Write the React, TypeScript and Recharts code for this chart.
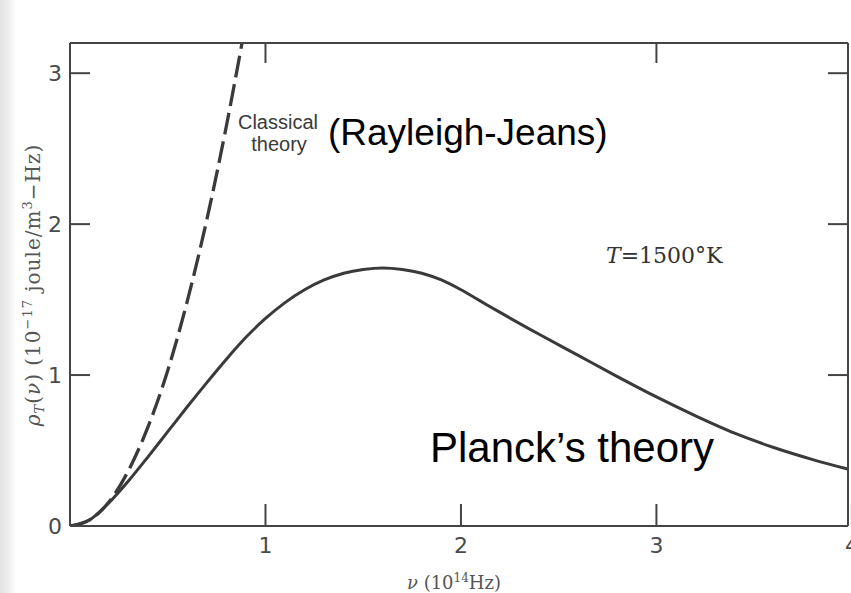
import React from 'react';
import { LineChart, Line, XAxis, YAxis } from 'recharts';

// ν in 10^14 Hz, ρ in 10^-17 joule/m^3-Hz
const planckNu = [0, 0.1, 0.2, 0.3, 0.4, 0.5, 0.6, 0.7, 0.8, 0.9, 1.0, 1.1, 1.2, 1.3, 1.4, 1.5, 1.6, 1.7, 1.8, 1.9, 2.0, 2.1, 2.2, 2.4, 2.6, 2.8, 3.0, 3.2, 3.4, 3.6, 3.8, 4.0];
const planckRho = [0, 0.04, 0.155, 0.3, 0.46, 0.625, 0.79, 0.95, 1.105, 1.25, 1.375, 1.48, 1.565, 1.63, 1.675, 1.7, 1.71, 1.70, 1.675, 1.63, 1.565, 1.49, 1.415, 1.27, 1.13, 0.99, 0.855, 0.73, 0.615, 0.52, 0.44, 0.37];

const classicalNu = [0, 0.1, 0.2, 0.3, 0.4, 0.5, 0.6, 0.7, 0.8, 0.88];
const classicalRho = [0, 0.04, 0.16, 0.37, 0.66, 1.03, 1.49, 2.03, 2.65, 3.2];

const xTicks = [1, 2, 3, 4];
const xTopTicks = [1, 3];
const yTicks = [0, 1, 2, 3];
const yRightTicks = [1, 2, 3];

const planckData = planckNu.map((nu, i) => ({ nu, rho: planckRho[i] }));
const classicalData = classicalNu.map((nu, i) => ({ nu, rho: classicalRho[i] }));

const W = 851;
const H = 593;
const INK = '#3a3a3a';
const axisStyle = { stroke: '#444', strokeWidth: 2 };
const tickFont = { fontFamily: 'DejaVu Sans', fontSize: 22, fill: '#4a4a4a' };

const BottomTick = (p: any) => (
  <g>
    <line x1={p.x} y1={p.y} x2={p.x} y2={p.y - 22} stroke="#444" strokeWidth={2} />
    <text x={p.x} y={p.y + 27} textAnchor="middle" {...tickFont}>{p.payload.value}</text>
  </g>
);
const LeftTick = (p: any) => (
  <g>
    {p.payload.value !== 0 && <line x1={p.x} y1={p.y} x2={p.x + 20} y2={p.y} stroke="#444" strokeWidth={2} />}
    <text x={p.x - 8} y={p.y + 8} textAnchor="end" {...tickFont}>{p.payload.value}</text>
  </g>
);
const TopTick = (p: any) => (
  <line x1={p.x} y1={p.y} x2={p.x} y2={p.y + 20} stroke="#444" strokeWidth={2} />
);
const RightTick = (p: any) => (
  <line x1={p.x} y1={p.y} x2={p.x - 20} y2={p.y} stroke="#444" strokeWidth={2} />
);

export default function App() {
  return (
    <div
      style={{
        position: 'absolute',
        left: 0,
        top: 0,
        width: W,
        height: H,
        overflow: 'hidden',
        background: 'linear-gradient(to right, #e2e2e2 0px, #efefef 9px, #ffffff 16px)',
      }}
    >
      <LineChart width={W} height={H} margin={{ top: 42, right: 0, bottom: 0, left: 0 }}>
        <XAxis
          xAxisId="b"
          type="number"
          dataKey="nu"
          domain={[0, 3.98]}
          allowDataOverflow
          ticks={xTicks}
          interval={0}
          height={67}
          tickSize={0}
          tickMargin={0}
          tickLine={false}
          axisLine={axisStyle}
          tick={(p: any) => <BottomTick {...p} />}
        />
        <XAxis
          xAxisId="t"
          orientation="top"
          type="number"
          dataKey="nu"
          domain={[0, 3.98]}
          allowDataOverflow
          ticks={xTopTicks}
          interval={0}
          height={1}
          tickSize={0}
          tickMargin={0}
          tickLine={false}
          axisLine={axisStyle}
          tick={(p: any) => <TopTick {...p} />}
        />
        <YAxis
          yAxisId="l"
          type="number"
          domain={[0, 3.2]}
          allowDataOverflow
          ticks={yTicks}
          interval={0}
          width={70}
          tickSize={0}
          tickMargin={0}
          tickLine={false}
          axisLine={axisStyle}
          tick={(p: any) => <LeftTick {...p} />}
        />
        <YAxis
          yAxisId="r"
          orientation="right"
          type="number"
          domain={[0, 3.2]}
          allowDataOverflow
          ticks={yRightTicks}
          interval={0}
          width={3}
          tickSize={0}
          tickMargin={0}
          tickLine={false}
          axisLine={axisStyle}
          tick={(p: any) => <RightTick {...p} />}
        />
        <Line
          xAxisId="b"
          yAxisId="l"
          data={classicalData}
          dataKey="rho"
          type="monotone"
          stroke={INK}
          strokeWidth={3.3}
          strokeDasharray="22 7"
          dot={false}
          isAnimationActive={false}
        />
        <Line
          xAxisId="b"
          yAxisId="l"
          data={planckData}
          dataKey="rho"
          type="monotone"
          stroke={INK}
          strokeWidth={3}
          dot={false}
          isAnimationActive={false}
        />
      </LineChart>
      <svg
        width={W}
        height={H}
        style={{ position: 'absolute', left: 0, top: 0, pointerEvents: 'none' }}
      >
        <text
          transform="translate(40,285) rotate(-90)"
          textAnchor="middle"
          fontFamily="DejaVu Serif"
          fontSize={20}
          letterSpacing={1}
          fill="#555"
        >
          <tspan fontStyle="italic">ρ</tspan>
          <tspan fontStyle="italic" fontSize={13} dy={4}>T</tspan>
          <tspan dy={-4}>(</tspan>
          <tspan fontStyle="italic">ν</tspan>
          <tspan>) (10</tspan>
          <tspan fontSize={13} dy={-8}>−17</tspan>
          <tspan dy={8}> joule/m</tspan>
          <tspan fontSize={13} dy={-8}>3</tspan>
          <tspan dy={8}>−Hz)</tspan>
        </text>
        <text x={454} y={589} textAnchor="middle" fontFamily="DejaVu Serif" fontSize={18} fill="#555">
          <tspan fontStyle="italic">ν</tspan>
          <tspan> (10</tspan>
          <tspan fontSize={12} dy={-7}>14</tspan>
          <tspan dy={7}>Hz)</tspan>
        </text>
        <text x={278} y={129} textAnchor="middle" fontFamily="Liberation Sans" fontSize={20} fill="#3a3a3a">Classical</text>
        <text x={279} y={151} textAnchor="middle" fontFamily="Liberation Sans" fontSize={20} fill="#3a3a3a">theory</text>
        <text x={328} y={145} fontFamily="Liberation Sans" fontSize={37} fill="#000">(Rayleigh-Jeans)</text>
        <text x={606} y={263} fontFamily="DejaVu Serif" fontSize={22} fill="#333">
          <tspan fontStyle="italic">T</tspan>
          <tspan>=1500°K</tspan>
        </text>
        <text x={430} y={462} fontFamily="Liberation Sans" fontSize={42} fill="#000">Planck’s theory</text>
      </svg>
    </div>
  );
}
